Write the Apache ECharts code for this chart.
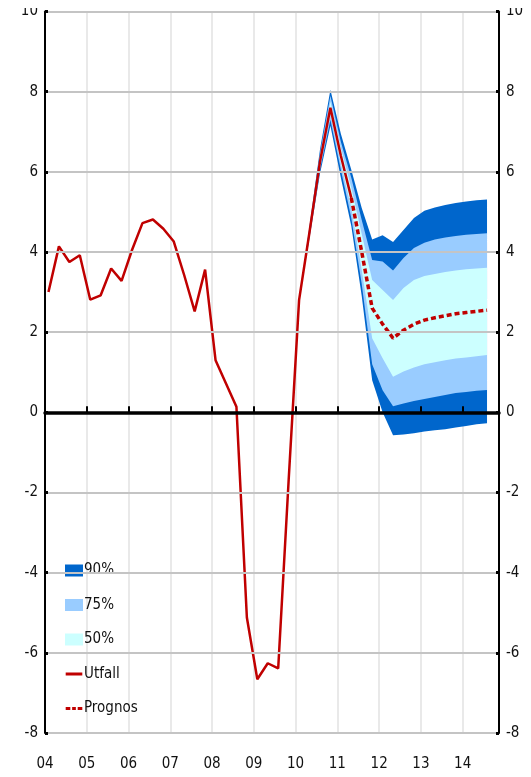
<!DOCTYPE html>
<html><head><meta charset="utf-8">
<script src="https://cdn.jsdelivr.net/npm/echarts@6/dist/echarts.min.js"></script>
<style>html,body{margin:0;padding:0;background:#fff}#c{width:531px;height:777px}</style>
</head><body><div id="c"></div>
<script>
// ---- data (quarterly, 2004 K1 = index 0) ----
const yearLabels = ['04','05','06','07','08','09','10','11','12','13','14'];
const yTicks = [-8,-6,-4,-2,0,2,4,6,8,10];
// Utfall: 2004 K1 .. 2011 K2
const outcome = [3.0, 4.14, 3.75, 3.92, 2.81, 2.92, 3.59, 3.28, 4.05, 4.72, 4.81, 4.58,
                 4.26, 3.42, 2.52, 3.56, 1.3, 0.72, 0.14, -5.12, -6.66, -6.26, -6.39, -1.7,
                 2.8, 4.5, 6.25, 7.6, 6.4, 5.35];
// Prognos: 2011 K2 .. 2014 K3
const forecastStart = 29;
const forecast = [5.35, 4.0, 2.6, 2.2, 1.85, 2.05, 2.2, 2.3, 2.36, 2.41, 2.46, 2.49, 2.52, 2.55];
// Osäkerhetsintervall: 2010 K1 .. 2014 K3
const bandStart = 24;
const upper90 = [2.8, 4.65, 6.55, 8.05, 6.95, 6.05, 5.1, 4.31, 4.42, 4.25, 4.55, 4.85, 5.03, 5.11, 5.17, 5.22, 5.26, 5.29, 5.31];
const upper75 = [2.8, 4.6, 6.45, 7.9, 6.75, 5.85, 4.8, 3.8, 3.76, 3.54, 3.85, 4.1, 4.23, 4.31, 4.36, 4.4, 4.43, 4.45, 4.47];
const upper50 = [2.8, 4.55, 6.35, 7.75, 6.6, 5.6, 4.45, 3.3, 3.05, 2.8, 3.1, 3.3, 3.4, 3.45, 3.5, 3.54, 3.57, 3.59, 3.61];
const lower50 = [2.8, 4.45, 6.15, 7.45, 6.2, 5.1, 3.55, 1.85, 1.35, 0.89, 1.02, 1.12, 1.2, 1.25, 1.3, 1.34, 1.37, 1.4, 1.43];
const lower75 = [2.8, 4.4, 6.05, 7.3, 6.05, 4.85, 3.2, 1.2, 0.55, 0.15, 0.22, 0.28, 0.33, 0.38, 0.43, 0.48, 0.51, 0.54, 0.56];
const lower90 = [2.8, 4.35, 5.95, 7.15, 5.85, 4.65, 2.9, 0.8, 0.0, -0.57, -0.55, -0.52, -0.48, -0.45, -0.42, -0.38, -0.34, -0.3, -0.27];

// ---- helpers ----
const FONT = "'DejaVu Sans Condensed', 'DejaVu Sans', sans-serif";
const DARK = '#0066CC', MID = '#99CCFF', LIGHT = '#CCFFFF', RED = '#C00000';
// quarter index -> position in years (mid-quarter month)
const qx = k => 2004 + k / 4 + 1 / 12;
const pts = (arr, start) => arr.map((v, i) => [qx(start + i), v]);

function bandSeries(name, upper, lower, color, z) {
  return {
    name, type: 'custom', coordinateSystem: 'cartesian2d', z, silent: true,
    itemStyle: { color },
    data: upper.map((v, i) => [qx(bandStart + i), v, lower[i]]),
    encode: { x: 0, y: [1, 2] },
    renderItem: (params, api) => {
      if (params.dataIndex !== 0) return null;
      const top = upper.map((v, i) => api.coord([qx(bandStart + i), v]));
      const bot = lower.map((v, i) => api.coord([qx(bandStart + i), v])).reverse();
      return { type: 'polygon', shape: { points: top.concat(bot) }, style: { fill: color, stroke: null } };
    }
  };
}

const chart = echarts.init(document.getElementById('c'), null, { renderer: 'canvas' });
const axisTxt = { color: '#111', fontSize: 15, fontFamily: FONT };
chart.setOption({
  animation: false,
  backgroundColor: '#fff',
  grid: { left: 45, right: 32, top: 11.5, bottom: 44, containLabel: false },
  xAxis: [
    {
      type: 'value', min: 2004, max: 2014.87, interval: 1, position: 'bottom',
      axisLine: { show: false, onZero: false }, axisTick: { show: false },
      axisLabel: Object.assign({ margin: 24, formatter: v => Number.isInteger(v) ? yearLabels[v - 2004] : '' }, axisTxt),
      splitLine: { show: true, lineStyle: { color: '#e2e2e2', width: 1.5 } }
    },
    {
      type: 'value', min: 2004, max: 2014.87, interval: 1, position: 'bottom', z: 10,
      axisLine: { show: true, onZero: true, onZeroAxisIndex: 0, lineStyle: { color: '#000', width: 3.5 } },
      axisTick: { show: true, inside: true, length: 6, lineStyle: { color: '#000', width: 2 } },
      axisLabel: { show: false }, splitLine: { show: false }
    }
  ],
  yAxis: [
    {
      type: 'value', min: -8, max: 10, interval: 2, position: 'left', z: 10,
      axisLine: { show: true, onZero: false, lineStyle: { color: '#000', width: 2 } },
      axisTick: { show: true, inside: true, length: 3, lineStyle: { color: '#000', width: 3 } },
      axisLabel: Object.assign({ margin: 7, formatter: v => yTicks.includes(v) ? String(v) : '' }, axisTxt),
      splitLine: { show: true, lineStyle: { color: '#c4c4c4', width: 2 } }
    },
    {
      type: 'value', min: -8, max: 10, interval: 2, position: 'right', z: 10,
      axisLine: { show: true, onZero: false, lineStyle: { color: '#000', width: 2 } },
      axisTick: { show: true, inside: true, length: 3, lineStyle: { color: '#000', width: 3 } },
      axisLabel: Object.assign({ margin: 7, formatter: v => yTicks.includes(v) ? String(v) : '' }, axisTxt),
      splitLine: { show: false }
    }
  ],
  legend: {
    orient: 'vertical', left: 65, top: 563, padding: 0, itemWidth: 18, itemHeight: 12, itemGap: 19.5,
    textStyle: { color: '#111', fontSize: 15, fontFamily: FONT, padding: [0, 0, 0, -4] },
    selectedMode: false,
    data: [
      { name: '90%', icon: 'rect', itemStyle: { color: DARK, borderWidth: 0 } },
      { name: '75%', icon: 'rect', itemStyle: { color: MID, borderWidth: 0 } },
      { name: '50%', icon: 'rect', itemStyle: { color: LIGHT, borderWidth: 0 } },
      { name: 'Utfall', icon: 'path://M0,0h0.01v0.01h-0.01z M0,5h18v3h-18z M17.99,12.99h0.01v0.01h-0.01z',
        itemStyle: { color: RED, borderWidth: 0 } },
      { name: 'Prognos', icon: 'path://M0,0h0.01v0.01h-0.01z M0,5h5v3h-5z M7,5h4v3h-4z M13,5h5v3h-5z M17.99,12.99h0.01v0.01h-0.01z',
        itemStyle: { color: RED, borderWidth: 0 } }
    ]
  },
  graphic: [
    { type: 'rect', left: 0, top: 0, shape: { width: 44, height: 8 }, style: { fill: '#fff' }, z: 100, silent: true },
    { type: 'rect', right: 0, top: 0, shape: { width: 31, height: 8 }, style: { fill: '#fff' }, z: 100, silent: true }
  ],
  series: [
    bandSeries('90%', upper90, lower90, DARK, 2),
    bandSeries('75%', upper75, lower75, MID, 3),
    bandSeries('50%', upper50, lower50, LIGHT, 4),
    {
      name: 'Utfall', type: 'line', data: pts(outcome, 0), symbol: 'none', z: 5,
      itemStyle: { color: RED }, lineStyle: { color: RED, width: 2.5 }
    },
    {
      name: 'Prognos', type: 'line', data: pts(forecast, forecastStart), symbol: 'none', z: 5,
      itemStyle: { color: RED }, lineStyle: { color: RED, width: 3.5, type: [5, 3] }
    }
  ]
});
</script></body></html>
